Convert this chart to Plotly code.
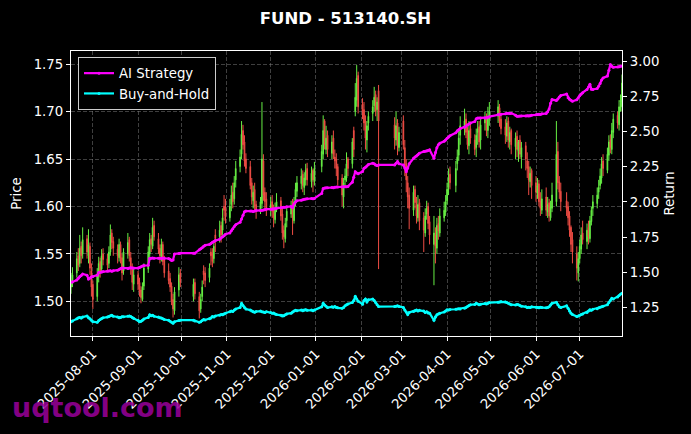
import pandas as pd
import plotly.graph_objects as go

# ---------------- data ----------------
HOLIDAYS = ["2025-10-01", "2025-10-02", "2025-10-03", "2025-10-06", "2025-10-07", "2025-10-08",
            "2026-01-01", "2026-01-02", "2026-02-16", "2026-02-17", "2026-02-18", "2026-02-19",
            "2026-02-20", "2026-02-23", "2026-04-06", "2026-05-01", "2026-05-04", "2026-05-05",
            "2026-06-19"]
START, END = "2025-07-17", "2026-07-30"

OPEN = [
    1.515, 1.522, 1.530, 1.548, 1.540, 1.558, 1.550, 1.566, 1.548, 1.558, 1.532,
    1.518, 1.505, 1.526, 1.542, 1.534, 1.550, 1.545, 1.540, 1.552, 1.572, 1.563, 1.555, 1.546, 1.560, 1.546, 1.532, 1.550, 1.565, 1.546, 1.536, 1.518,
    1.528, 1.520, 1.512, 1.502, 1.516, 1.534, 1.550, 1.566, 1.558, 1.580, 1.566, 1.556, 1.546, 1.560, 1.544, 1.532, 1.524, 1.516, 1.502, 1.490, 1.512, 1.530,
    1.505, 1.520, 1.505, 1.492, 1.505, 1.532, 1.530, 1.525, 1.552, 1.550, 1.545, 1.570, 1.568, 1.580, 1.575, 1.600, 1.598,
    1.588, 1.602, 1.615, 1.608, 1.628, 1.642, 1.655, 1.680, 1.668, 1.650, 1.642, 1.625, 1.606, 1.618, 1.602, 1.596, 1.603, 1.648, 1.615, 1.608,
    1.598, 1.605, 1.596, 1.586, 1.600, 1.606, 1.592, 1.575, 1.566, 1.585, 1.592, 1.602, 1.585, 1.606, 1.616, 1.624, 1.634, 1.620, 1.628, 1.640, 1.626, 1.638, 1.626,
    1.642, 1.655, 1.690, 1.660, 1.675, 1.656, 1.672, 1.652, 1.650, 1.642, 1.630, 1.610, 1.628, 1.630, 1.650, 1.645, 1.680, 1.700, 1.712, 1.738,
    1.708, 1.702, 1.690, 1.670, 1.688, 1.698, 1.706, 1.718, 1.702, 1.722, 1.686, 1.670, 1.688, 1.662,
    1.690, 1.662, 1.645, 1.625, 1.612, 1.596, 1.618, 1.602, 1.588, 1.604, 1.588, 1.572, 1.592, 1.600, 1.584, 1.560, 1.570, 1.556, 1.582, 1.572, 1.588, 1.594,
    1.606, 1.620, 1.634, 1.622, 1.645, 1.654, 1.675, 1.682, 1.692, 1.678, 1.664, 1.682, 1.670, 1.662, 1.678, 1.684, 1.670, 1.688, 1.694, 1.680, 1.692,
    1.695, 1.704, 1.692, 1.684, 1.674, 1.690, 1.668, 1.680, 1.663, 1.674, 1.658, 1.670, 1.652, 1.664, 1.648, 1.642, 1.626, 1.638,
    1.625, 1.614, 1.624, 1.606, 1.596, 1.610, 1.594, 1.604, 1.588, 1.598, 1.605, 1.658, 1.626, 1.616, 1.606, 1.600, 1.590, 1.578, 1.565, 1.550, 1.530,
    1.545, 1.555, 1.572, 1.563, 1.578, 1.566, 1.584, 1.598, 1.603, 1.615, 1.622, 1.630, 1.648, 1.638, 1.654, 1.670, 1.660, 1.678, 1.696, 1.686, 1.710, 1.705,
]
HIGH = [
    1.530, 1.536, 1.552, 1.556, 1.570, 1.563, 1.578, 1.570, 1.576, 1.562, 1.540,
    1.522, 1.535, 1.547, 1.546, 1.555, 1.556, 1.550, 1.558, 1.581, 1.576, 1.568, 1.560, 1.566, 1.563, 1.550, 1.556, 1.572, 1.568, 1.552, 1.540, 1.535,
    1.532, 1.525, 1.516, 1.520, 1.540, 1.558, 1.572, 1.570, 1.588, 1.585, 1.572, 1.560, 1.566, 1.563, 1.548, 1.540, 1.530, 1.520, 1.508, 1.515, 1.536, 1.534,
    1.524, 1.524, 1.510, 1.508, 1.522, 1.538, 1.536, 1.540, 1.556, 1.556, 1.562, 1.576, 1.585, 1.584, 1.598, 1.612, 1.608,
    1.608, 1.622, 1.625, 1.632, 1.648, 1.660, 1.690, 1.686, 1.675, 1.656, 1.648, 1.630, 1.622, 1.625, 1.606, 1.610, 1.710, 1.655, 1.620, 1.615,
    1.610, 1.612, 1.602, 1.604, 1.614, 1.610, 1.598, 1.580, 1.588, 1.600, 1.606, 1.608, 1.610, 1.625, 1.632, 1.640, 1.638, 1.636, 1.645, 1.646, 1.642, 1.640, 1.647,
    1.665, 1.696, 1.692, 1.685, 1.680, 1.675, 1.680, 1.660, 1.656, 1.645, 1.634, 1.630, 1.640, 1.657, 1.652, 1.672, 1.684, 1.730, 1.749, 1.742,
    1.714, 1.710, 1.696, 1.690, 1.700, 1.712, 1.726, 1.722, 1.715, 1.728, 1.694, 1.700, 1.692, 1.684,
    1.696, 1.670, 1.650, 1.632, 1.620, 1.622, 1.622, 1.610, 1.612, 1.608, 1.594, 1.598, 1.606, 1.604, 1.590, 1.590, 1.578, 1.588, 1.590, 1.598, 1.605, 1.612,
    1.625, 1.640, 1.642, 1.648, 1.660, 1.680, 1.695, 1.703, 1.698, 1.684, 1.690, 1.688, 1.676, 1.682, 1.690, 1.690, 1.693, 1.700, 1.698, 1.705, 1.710,
    1.712, 1.708, 1.698, 1.692, 1.695, 1.694, 1.684, 1.682, 1.678, 1.680, 1.670, 1.675, 1.668, 1.668, 1.657, 1.648, 1.642, 1.640,
    1.632, 1.630, 1.628, 1.615, 1.618, 1.620, 1.610, 1.608, 1.606, 1.625, 1.690, 1.668, 1.632, 1.625, 1.615, 1.605, 1.595, 1.580, 1.573, 1.558, 1.552,
    1.565, 1.578, 1.585, 1.582, 1.585, 1.590, 1.600, 1.612, 1.620, 1.628, 1.640, 1.652, 1.655, 1.662, 1.675, 1.676, 1.688, 1.698, 1.700, 1.712, 1.718, 1.739,
]
LOW = [
    1.508, 1.515, 1.525, 1.532, 1.536, 1.540, 1.545, 1.545, 1.540, 1.528, 1.505,
    1.492, 1.500, 1.520, 1.525, 1.530, 1.538, 1.532, 1.535, 1.548, 1.555, 1.548, 1.540, 1.542, 1.540, 1.522, 1.528, 1.545, 1.542, 1.528, 1.512, 1.510,
    1.512, 1.505, 1.498, 1.500, 1.512, 1.530, 1.545, 1.552, 1.555, 1.564, 1.550, 1.540, 1.542, 1.538, 1.525, 1.518, 1.510, 1.496, 1.483, 1.486, 1.505, 1.515,
    1.500, 1.502, 1.482, 1.488, 1.500, 1.518, 1.515, 1.520, 1.538, 1.536, 1.540, 1.552, 1.562, 1.562, 1.570, 1.585, 1.582,
    1.584, 1.595, 1.598, 1.602, 1.620, 1.636, 1.650, 1.660, 1.642, 1.635, 1.618, 1.602, 1.598, 1.596, 1.587, 1.592, 1.598, 1.606, 1.596, 1.590,
    1.590, 1.588, 1.578, 1.582, 1.594, 1.585, 1.565, 1.556, 1.562, 1.578, 1.588, 1.570, 1.582, 1.600, 1.610, 1.618, 1.615, 1.612, 1.622, 1.622, 1.620, 1.615, 1.622,
    1.636, 1.650, 1.660, 1.655, 1.652, 1.650, 1.650, 1.640, 1.632, 1.622, 1.600, 1.598, 1.620, 1.626, 1.632, 1.640, 1.652, 1.695, 1.705, 1.698,
    1.692, 1.680, 1.660, 1.657, 1.680, 1.690, 1.700, 1.695, 1.690, 1.534, 1.660, 1.664, 1.654, 1.658,
    1.660, 1.632, 1.615, 1.598, 1.576, 1.590, 1.598, 1.582, 1.584, 1.575, 1.552, 1.568, 1.586, 1.576, 1.560, 1.517, 1.540, 1.550, 1.565, 1.568, 1.584, 1.590,
    1.602, 1.612, 1.618, 1.615, 1.638, 1.648, 1.665, 1.675, 1.672, 1.660, 1.655, 1.666, 1.654, 1.652, 1.665, 1.662, 1.660, 1.680, 1.674, 1.672, 1.685,
    1.688, 1.684, 1.676, 1.666, 1.668, 1.662, 1.660, 1.655, 1.650, 1.652, 1.647, 1.650, 1.640, 1.638, 1.630, 1.612, 1.620, 1.608,
    1.605, 1.608, 1.600, 1.590, 1.592, 1.590, 1.588, 1.584, 1.585, 1.594, 1.600, 1.618, 1.608, 1.595, 1.590, 1.580, 1.568, 1.552, 1.540, 1.522, 1.521,
    1.540, 1.550, 1.560, 1.555, 1.560, 1.562, 1.580, 1.590, 1.598, 1.608, 1.618, 1.624, 1.632, 1.635, 1.648, 1.656, 1.655, 1.672, 1.682, 1.680, 1.700, 1.700,
]
CLOSE = [
    1.522, 1.528, 1.545, 1.538, 1.556, 1.548, 1.565, 1.552, 1.560, 1.535, 1.515,
    1.502, 1.528, 1.540, 1.532, 1.548, 1.544, 1.538, 1.552, 1.570, 1.562, 1.556, 1.548, 1.560, 1.545, 1.530, 1.552, 1.562, 1.548, 1.535, 1.520, 1.528,
    1.518, 1.510, 1.504, 1.515, 1.535, 1.552, 1.565, 1.560, 1.578, 1.568, 1.555, 1.548, 1.560, 1.542, 1.530, 1.522, 1.515, 1.500, 1.492, 1.510, 1.528, 1.520,
    1.518, 1.508, 1.490, 1.502, 1.515, 1.528, 1.522, 1.535, 1.548, 1.542, 1.558, 1.566, 1.575, 1.570, 1.588, 1.596, 1.590,
    1.600, 1.612, 1.605, 1.625, 1.640, 1.652, 1.676, 1.665, 1.648, 1.640, 1.622, 1.610, 1.615, 1.600, 1.595, 1.605, 1.650, 1.612, 1.605, 1.598,
    1.602, 1.595, 1.588, 1.598, 1.605, 1.590, 1.572, 1.568, 1.582, 1.595, 1.600, 1.588, 1.605, 1.618, 1.625, 1.632, 1.622, 1.630, 1.638, 1.628, 1.635, 1.628, 1.640,
    1.658, 1.680, 1.665, 1.672, 1.660, 1.668, 1.655, 1.648, 1.640, 1.628, 1.612, 1.625, 1.632, 1.645, 1.640, 1.668, 1.660, 1.715, 1.735, 1.705,
    1.700, 1.688, 1.672, 1.685, 1.695, 1.705, 1.715, 1.700, 1.710, 1.690, 1.672, 1.685, 1.665, 1.678,
    1.665, 1.640, 1.628, 1.610, 1.598, 1.615, 1.604, 1.590, 1.602, 1.585, 1.575, 1.590, 1.598, 1.582, 1.570, 1.572, 1.558, 1.580, 1.574, 1.590, 1.596, 1.605,
    1.618, 1.630, 1.625, 1.640, 1.652, 1.672, 1.685, 1.690, 1.678, 1.665, 1.680, 1.672, 1.660, 1.675, 1.682, 1.668, 1.686, 1.692, 1.680, 1.695, 1.700,
    1.705, 1.690, 1.682, 1.675, 1.688, 1.670, 1.678, 1.665, 1.672, 1.660, 1.668, 1.655, 1.662, 1.650, 1.640, 1.628, 1.635, 1.622,
    1.615, 1.622, 1.605, 1.598, 1.608, 1.596, 1.602, 1.590, 1.600, 1.612, 1.655, 1.625, 1.615, 1.605, 1.598, 1.588, 1.575, 1.560, 1.552, 1.535, 1.545,
    1.558, 1.570, 1.565, 1.575, 1.568, 1.585, 1.596, 1.605, 1.612, 1.620, 1.632, 1.645, 1.640, 1.655, 1.668, 1.662, 1.680, 1.692, 1.688, 1.705, 1.712, 1.730,
]
AI_STRATEGY = [
    1.430, 1.432, 1.445, 1.458, 1.470, 1.478, 1.488, 1.480, 1.452, 1.460, 1.468,
    1.470, 1.480, 1.498, 1.500, 1.502, 1.505, 1.508, 1.510, 1.512, 1.508, 1.512, 1.515, 1.520, 1.528, 1.530, 1.530, 1.528, 1.530, 1.532, 1.530, 1.530,
    1.530, 1.535, 1.540, 1.545, 1.548, 1.550, 1.598, 1.600, 1.602, 1.600, 1.600, 1.600, 1.600, 1.602, 1.600, 1.598, 1.592, 1.584, 1.588, 1.630, 1.634, 1.636,
    1.636, 1.636, 1.660, 1.668, 1.675, 1.685, 1.692, 1.698, 1.705, 1.714, 1.718, 1.725, 1.735, 1.745, 1.752, 1.760, 1.770,
    1.780, 1.795, 1.810, 1.825, 1.838, 1.855, 1.878, 1.905, 1.930, 1.935, 1.935, 1.935, 1.932, 1.935, 1.938, 1.938, 1.940, 1.942, 1.945, 1.948,
    1.948, 1.950, 1.950, 1.952, 1.955, 1.958, 1.960, 1.962, 1.962, 1.965, 1.968, 1.960, 1.985, 2.000, 2.008, 2.012, 2.015, 2.018, 2.020, 2.022, 2.024, 2.022, 2.024,
    2.060, 2.095, 2.098, 2.100, 2.100, 2.102, 2.100, 2.104, 2.105, 2.105, 2.106, 2.107, 2.107, 2.108, 2.110, 2.140, 2.175, 2.214, 2.205, 2.200,
    2.215, 2.238, 2.245, 2.255, 2.265, 2.274, 2.270, 2.262, 2.258, 2.262, 2.262, 2.275, 2.286, 2.270,
    2.262, 2.240, 2.214, 2.240, 2.270, 2.310, 2.318, 2.325, 2.335, 2.345, 2.357, 2.360, 2.362, 2.365, 2.370, 2.310, 2.350, 2.385, 2.405, 2.417, 2.430, 2.440,
    2.452, 2.460, 2.470, 2.490, 2.505, 2.512, 2.520, 2.530, 2.538, 2.545, 2.552, 2.560, 2.570, 2.590, 2.595, 2.595, 2.595, 2.595, 2.598, 2.600, 2.605,
    2.620, 2.618, 2.622, 2.625, 2.630, 2.630, 2.628, 2.630, 2.615, 2.607, 2.608, 2.610, 2.610, 2.610, 2.612, 2.610, 2.612, 2.615,
    2.618, 2.620, 2.622, 2.620, 2.625, 2.628, 2.640, 2.660, 2.700, 2.726, 2.720, 2.730, 2.745, 2.755, 2.765, 2.740, 2.728, 2.722, 2.714, 2.725, 2.740,
    2.755, 2.765, 2.775, 2.798, 2.815, 2.835, 2.800, 2.798, 2.805, 2.820, 2.840, 2.865, 2.880, 2.893, 2.935, 2.975, 2.962, 2.955, 2.958, 2.960, 2.962, 2.965,
]
BUY_AND_HOLD = [
    1.150, 1.155, 1.170, 1.178, 1.180, 1.175, 1.182, 1.190, 1.178, 1.170, 1.160,
    1.150, 1.145, 1.158, 1.165, 1.172, 1.178, 1.182, 1.186, 1.192, 1.195, 1.188, 1.182, 1.178, 1.180, 1.185, 1.184, 1.188, 1.190, 1.186, 1.180, 1.172,
    1.160, 1.150, 1.152, 1.160, 1.168, 1.180, 1.198, 1.192, 1.195, 1.188, 1.182, 1.178, 1.175, 1.170, 1.165, 1.160, 1.152, 1.145, 1.138, 1.150, 1.158, 1.160,
    1.160, 1.155, 1.145, 1.150, 1.158, 1.165, 1.162, 1.170, 1.175, 1.186, 1.182, 1.190, 1.195, 1.200, 1.198, 1.205, 1.210,
    1.220, 1.225, 1.222, 1.232, 1.240, 1.250, 1.280, 1.265, 1.250, 1.240, 1.232, 1.225, 1.220, 1.216, 1.222, 1.225, 1.220, 1.218, 1.215, 1.220,
    1.215, 1.210, 1.212, 1.205, 1.200, 1.195, 1.190, 1.192, 1.198, 1.205, 1.210, 1.218, 1.225, 1.230, 1.228, 1.232, 1.228, 1.230, 1.235, 1.230, 1.232, 1.228, 1.232,
    1.255, 1.280, 1.268, 1.260, 1.250, 1.255, 1.252, 1.258, 1.250, 1.248, 1.245, 1.250, 1.262, 1.270, 1.275, 1.285, 1.300, 1.330, 1.310, 1.295,
    1.274, 1.300, 1.310, 1.290, 1.305, 1.310, 1.300, 1.285, 1.270, 1.257, 1.258, 1.260, 1.262, 1.258,
    1.250, 1.232, 1.218, 1.200, 1.215, 1.222, 1.228, 1.232, 1.225, 1.230, 1.225, 1.215, 1.220, 1.212, 1.210, 1.160, 1.185, 1.198, 1.205, 1.210, 1.218, 1.225,
    1.234, 1.232, 1.236, 1.238, 1.240, 1.242, 1.240, 1.245, 1.250, 1.258, 1.265, 1.270, 1.272, 1.280, 1.276, 1.270, 1.274, 1.278, 1.275, 1.280, 1.285,
    1.288, 1.290, 1.293, 1.290, 1.285, 1.280, 1.275, 1.270, 1.268, 1.272, 1.270, 1.265, 1.260, 1.255, 1.250, 1.252, 1.250, 1.255,
    1.252, 1.250, 1.248, 1.252, 1.250, 1.248, 1.250, 1.255, 1.268, 1.280, 1.288, 1.270, 1.255, 1.250, 1.262, 1.245, 1.225, 1.210, 1.200, 1.186, 1.190,
    1.195, 1.200, 1.205, 1.215, 1.225, 1.234, 1.230, 1.238, 1.242, 1.248, 1.252, 1.255, 1.260, 1.270, 1.285, 1.300, 1.316, 1.310, 1.325, 1.335, 1.345, 1.352,
]
PRICE_TICKS = [1.50, 1.55, 1.60, 1.65, 1.70, 1.75]
RETURN_TICKS = [1.25, 1.50, 1.75, 2.00, 2.25, 2.50, 2.75, 3.00]

# trading calendar
dates = pd.bdate_range(START, END)
dates = dates[~dates.isin(pd.to_datetime(HOLIDAYS))]
n = min(len(dates), len(OPEN), len(HIGH), len(LOW), len(CLOSE), len(AI_STRATEGY), len(BUY_AND_HOLD))
dates = dates[:n]

GREEN = "#66ee44"
RED = "#ee4c44"
GRID = "rgba(140,140,140,0.45)"
FONT = "DejaVu Sans"

fig = go.Figure()
fig.add_trace(go.Candlestick(
    x=dates, open=OPEN[:n], high=HIGH[:n], low=LOW[:n], close=CLOSE[:n],
    increasing=dict(line=dict(color=GREEN, width=1), fillcolor=GREEN),
    decreasing=dict(line=dict(color=RED, width=1), fillcolor=RED),
    whiskerwidth=0, showlegend=False, yaxis="y", hoverinfo="skip"))
fig.add_trace(go.Scatter(
    x=dates, y=AI_STRATEGY[:n], name="AI Strategy", mode="lines+markers",
    line=dict(color="#ff00ff", width=2.2), marker=dict(color="#ff00ff", size=3), yaxis="y2"))
fig.add_trace(go.Scatter(
    x=dates, y=BUY_AND_HOLD[:n], name="Buy-and-Hold", mode="lines+markers",
    line=dict(color="#00ffff", width=2.2), marker=dict(color="#00ffff", size=3), yaxis="y2"))

L, R, T, B = 71, 69, 51, 98
PW, PH = 691 - L - R, 434 - T - B

fig.update_layout(
    width=691, height=434,
    margin=dict(l=L, r=R, t=T, b=B, pad=0),
    paper_bgcolor="black", plot_bgcolor="black",
    font=dict(family=FONT, color="white", size=13.3),
    title=dict(text="<b>FUND - 513140.SH</b>", x=0.5, xref="container", xanchor="center",
               y=1 - 18 / 434, yref="container", yanchor="middle",
               font=dict(size=16.5, color="white", family=FONT)),
    xaxis=dict(type="date", range=[START, END], rangeslider=dict(visible=False),
               tick0="2025-08-01", dtick="M1", tickformat="%Y-%m-%d", tickangle=-45,
               showgrid=True, gridcolor=GRID, gridwidth=0.8, griddash="4px,2px",
               showline=True, linecolor="white", linewidth=1.2, mirror=True,
               ticks="outside", ticklen=4, tickcolor="white", zeroline=False,
               tickfont=dict(size=13.3)),
    yaxis=dict(title=dict(text="Price", standoff=8, font=dict(size=13.3)),
               range=[1.4635, 1.7638], tickvals=PRICE_TICKS, tickformat=".2f",
               showgrid=True, gridcolor=GRID, gridwidth=0.8, griddash="4px,2px",
               showline=True, linecolor="white", linewidth=1.2,
               ticks="outside", ticklen=4, tickcolor="white", zeroline=False),
    yaxis2=dict(title=dict(text="Return", standoff=6, font=dict(size=13.3)),
                overlaying="y", side="right", range=[1.048, 3.071],
                tickvals=RETURN_TICKS, tickformat=".2f", showgrid=False,
                showline=True, linecolor="white", linewidth=1.2,
                ticks="outside", ticklen=4, tickcolor="white", zeroline=False),
    legend=dict(x=(78 - L) / PW, y=1 - (57 - T) / PH, xanchor="left", yanchor="top",
                bgcolor="black", bordercolor="#cccccc", borderwidth=1,
                font=dict(size=13.3, color="white")),
    showlegend=True,
    annotations=[dict(text="<b>uqtool.com</b>", xref="paper", yref="paper",
                      x=(10 - L) / PW, y=(336 - 408) / PH, xanchor="left", yanchor="middle",
                      showarrow=False, font=dict(size=27, color="rgba(150,0,150,0.9)", family=FONT))],
)

fig.write_html("out.html", config={"displayModeBar": False},
               post_script="document.body.style.margin='0px';document.body.style.background='black';")
